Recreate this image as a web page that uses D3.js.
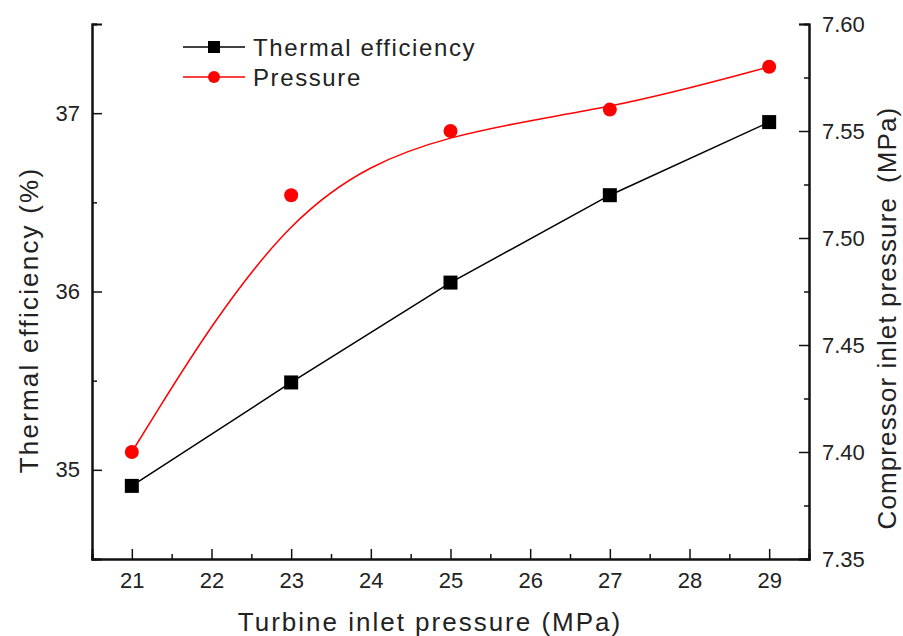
<!DOCTYPE html>
<html>
<head>
<meta charset="utf-8">
<title>Thermal efficiency and compressor inlet pressure</title>
<script src="https://cdn.jsdelivr.net/npm/d3@7"></script>
<style>
  body { margin: 0; background: #fff; }
  svg text { font-family: "Liberation Sans", Arial, sans-serif; fill: #222; }
</style>
</head>
<body>
<svg id="chart" width="903" height="636"></svg>
<script>
// data
var turbinePressure = [21, 23, 25, 27, 29];
var thermalEff = [34.91, 35.49, 36.05, 36.54, 36.95];
var compPressure = [7.40, 7.52, 7.55, 7.56, 7.58];

var xTicks = [21, 22, 23, 24, 25, 26, 27, 28, 29];
var leftTicks = [35, 36, 37];
var rightTicks = [7.35, 7.40, 7.45, 7.50, 7.55, 7.60];

var margin = { left: 92, right: 94, top: 24, bottom: 77 };
var W = 903, H = 636;

var svg = d3.select('#chart');

var x = d3.scaleLinear().domain([20.5, 29.5]).range([margin.left, W - margin.right]);
var yL = d3.scaleLinear().domain([34.5, 37.5]).range([H - margin.bottom, margin.top]);
var yR = d3.scaleLinear().domain([7.35, 7.60]).range([H - margin.bottom, margin.top]);

function styleAxis(g) {
  g.selectAll('path.domain').attr('stroke', '#111').attr('stroke-width', 2);
  g.selectAll('.tick line').attr('stroke', '#111').attr('stroke-width', 1.5);
  g.selectAll('.tick text').style('font-size', '22px').attr('fill', '#222');
}

// minor ticks (no labels)
svg.append('g')
  .attr('transform', 'translate(0,' + (H - margin.bottom) + ')')
  .call(d3.axisBottom(x).tickValues(d3.range(20.5, 29.6, 1)).tickSize(-5).tickFormat(''))
  .call(styleAxis);
svg.append('g')
  .attr('transform', 'translate(' + margin.left + ',0)')
  .call(d3.axisLeft(yL).tickValues([35.5, 36.5, 37.5]).tickSize(-5).tickFormat(''))
  .call(styleAxis);
svg.append('g')
  .attr('transform', 'translate(' + (W - margin.right) + ',0)')
  .call(d3.axisRight(yR).tickValues(d3.range(7.375, 7.6, 0.05)).tickSize(-5).tickFormat(''))
  .call(styleAxis);

// major ticks
svg.append('g')
  .attr('transform', 'translate(0,' + (H - margin.bottom) + ')')
  .call(d3.axisBottom(x).tickValues(xTicks).tickSize(-10).tickPadding(13).tickFormat(d3.format('d')))
  .call(styleAxis);

svg.append('g')
  .attr('transform', 'translate(' + margin.left + ',0)')
  .call(d3.axisLeft(yL).tickValues(leftTicks).tickSize(-10).tickPadding(12).tickFormat(d3.format('d')))
  .call(styleAxis);

svg.append('g')
  .attr('transform', 'translate(' + (W - margin.right) + ',0)')
  .call(d3.axisRight(yR).tickValues(rightTicks).tickSize(-10).tickPadding(13).tickFormat(d3.format('.2f')))
  .call(styleAxis);

// axis titles
svg.append('text')
  .attr('x', 430).attr('y', 631)
  .attr('text-anchor', 'middle')
  .style('font-size', '26px')
  .style('letter-spacing', '2px')
  .text('Turbine inlet pressure (MPa)');

svg.append('text')
  .attr('transform', 'translate(38,320) rotate(-90)')
  .attr('text-anchor', 'middle')
  .style('font-size', '26px')
  .style('letter-spacing', '2.2px')
  .text('Thermal efficiency (%)');

svg.append('text')
  .attr('transform', 'translate(896,318) rotate(-90)')
  .attr('text-anchor', 'middle')
  .style('font-size', '26px')
  .style('letter-spacing', '1.1px')
  .text('Compressor inlet pressure\u2002(MPa)');

// series
var pts = turbinePressure.map(function (t, i) {
  return { t: t, eff: thermalEff[i], p: compPressure[i] };
});

svg.append('path')
  .datum(pts)
  .attr('fill', 'none')
  .attr('stroke', '#000')
  .attr('stroke-width', 1.5)
  .attr('d', d3.line().x(d => x(d.t)).y(d => yL(d.eff)));

svg.append('path')
  .datum(pts)
  .attr('fill', 'none')
  .attr('stroke', '#f00')
  .attr('stroke-width', 1.5)
  .attr('d', d3.line().curve(d3.curveBasis).x(d => x(d.t)).y(d => yR(d.p)));

svg.selectAll('rect.eff')
  .data(pts)
  .enter().append('rect')
  .attr('class', 'eff')
  .attr('x', d => x(d.t) - 7)
  .attr('y', d => yL(d.eff) - 7)
  .attr('width', 14).attr('height', 14)
  .attr('fill', '#000');

svg.selectAll('circle.pres')
  .data(pts)
  .enter().append('circle')
  .attr('class', 'pres')
  .attr('cx', d => x(d.t))
  .attr('cy', d => yR(d.p))
  .attr('r', 7)
  .attr('fill', '#f00');

// legend
var legend = svg.append('g').attr('transform', 'translate(183,47)');
var items = [
  { label: 'Thermal efficiency', color: '#000', shape: 'square' },
  { label: 'Pressure', color: '#f00', shape: 'circle' }
];
items.forEach(function (it, i) {
  var g = legend.append('g').attr('transform', 'translate(0,' + (i * 30) + ')');
  g.append('line').attr('x1', 0).attr('x2', 62).attr('y1', 0).attr('y2', 0)
    .attr('stroke', it.color).attr('stroke-width', 1.5);
  if (it.shape === 'square') {
    g.append('rect').attr('x', 31 - 6).attr('y', -6).attr('width', 12).attr('height', 12).attr('fill', it.color);
  } else {
    g.append('circle').attr('cx', 31).attr('cy', 0).attr('r', 6).attr('fill', it.color);
  }
  g.append('text').attr('x', 70).attr('y', 9)
    .style('font-size', '24px')
    .style('letter-spacing', '1.6px')
    .text(it.label);
});
</script>
</body>
</html>
